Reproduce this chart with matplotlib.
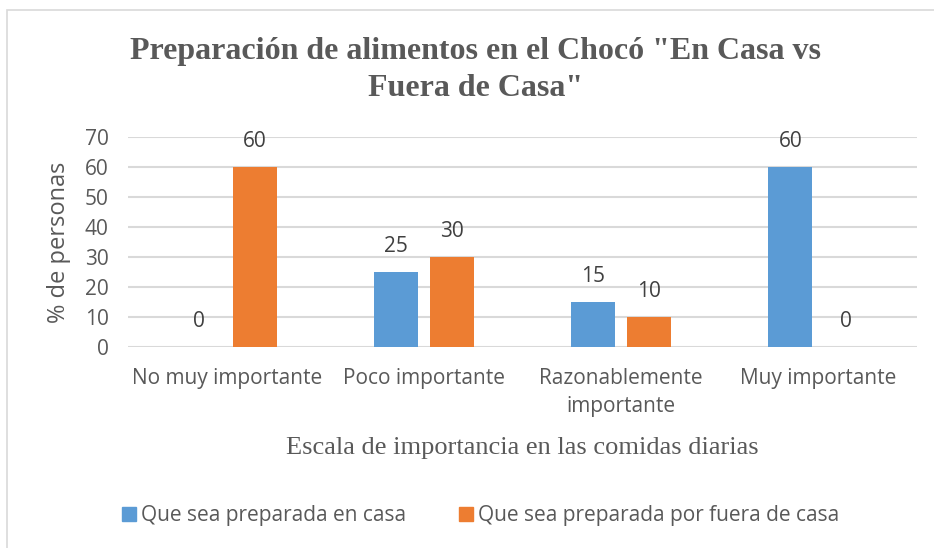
import matplotlib
matplotlib.use("Agg")
import matplotlib.pyplot as plt
import numpy as np
from matplotlib.patches import Rectangle

categories = ["No muy importante", "Poco importante", "Razonablemente\nimportante", "Muy importante"]
series_names = ["Que sea preparada en casa", "Que sea preparada por fuera de casa"]
en_casa = [0, 25, 15, 60]
fuera_casa = [60, 30, 10, 0]
yticks = [0, 10, 20, 30, 40, 50, 60, 70]

title = 'Preparación de alimentos en el Chocó "En Casa vs\nFuera de Casa"'
xlabel = "Escala de importancia en las comidas diarias"
ylabel = "% de personas"

BLUE = "#5B9BD5"
ORANGE = "#ED7D31"
GRID = "#D9D9D9"
TXT = "#595959"
SANS = "Open Sans"
SERIF = "Liberation Serif"
FS = 15

fig = plt.figure(figsize=(9.34, 5.48), dpi=100)
fig.patches.append(Rectangle((7/934, -0.1), 1.2, (548-10)/548 + 0.1, transform=fig.transFigure,
                             fill=False, edgecolor=GRID, linewidth=1.2))

ax = fig.add_axes([128/934, (548-347)/548, (917-128)/934, (347-137)/548])
x = np.arange(len(categories))
w = 0.223
off = 0.142
b1 = ax.bar(x - off, en_casa, w, color=BLUE, label=series_names[0], zorder=3)
b2 = ax.bar(x + off, fuera_casa, w, color=ORANGE, label=series_names[1], zorder=3)
for b in (b1, b2):
    ax.bar_label(b, padding=11, fontsize=FS, color="#404040", family=SANS)

ax.set_xlim(-0.5, len(categories) - 0.5)
ax.set_ylim(0, 70)
ax.set_yticks(yticks)
ax.set_yticklabels([str(v) for v in yticks], fontsize=FS, color=TXT, family=SANS)
ax.set_xticks(x)
ax.set_xticklabels(categories, fontsize=FS, color=TXT, family=SANS, linespacing=1.45)
ax.tick_params(axis="x", length=0, pad=15)
ax.tick_params(axis="y", length=0, pad=14)
ax.grid(axis="y", color=GRID, linewidth=1.5, zorder=0)
for s in ax.spines.values():
    s.set_visible(False)
ax.set_ylabel(ylabel, fontsize=17, color=TXT, family=SANS)
ax.yaxis.set_label_coords(-(128 - 71) / 789, 0.5)

ax.set_xlabel(xlabel, fontsize=19, color=TXT, family=SERIF)
ax.xaxis.set_label_coords(0.5, -(437 - 347) / (347 - 137))
fig.text(476/934, 1 - 70/548, title, ha="center", va="center", fontsize=23, fontweight="bold",
         color=TXT, family=SERIF, linespacing=1.4)

handles = [Rectangle((0, 0), 1, 1, color=BLUE), Rectangle((0, 0), 1, 1, color=ORANGE)]
leg = fig.legend(handles, series_names, loc="center", bbox_to_anchor=(481/934, 1 - 516/548),
                 ncol=2, frameon=False, handlelength=0.65, handleheight=0.65, handletextpad=0.25,
                 columnspacing=2.55, prop={"family": SANS, "size": FS})
for t in leg.get_texts():
    t.set_color(TXT)

fig.savefig("out.png", dpi=100)
